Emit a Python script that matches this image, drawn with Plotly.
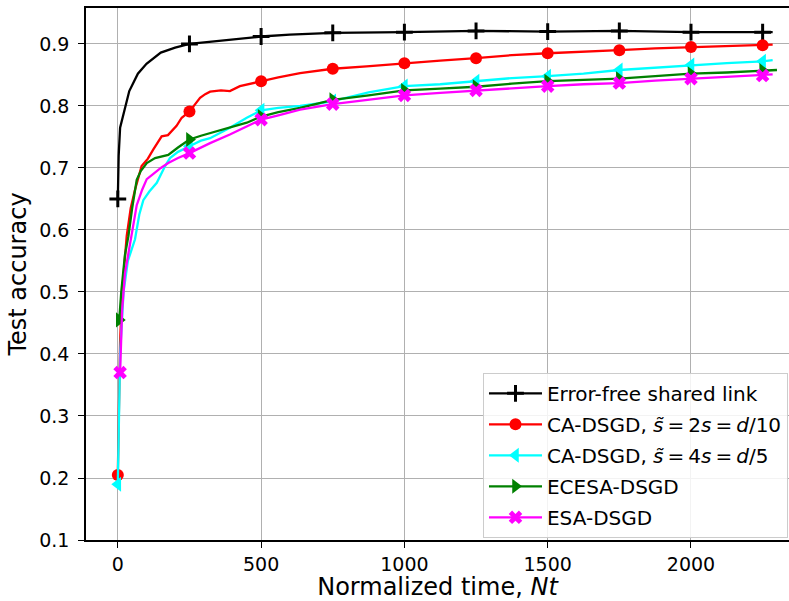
import plotly.graph_objects as go

# ---------------- data ----------------
marker_x = [0, 250, 500, 750, 1000, 1250, 1500, 1750, 2000, 2250]

x_ef = [0, 3, 8, 18, 40, 70, 100, 150, 200, 250, 350, 420, 500, 600, 750,
        1000, 1250, 1500, 1750, 2000, 2250, 2285]
acc_ef = [0.650, 0.720, 0.765, 0.785, 0.824, 0.852, 0.868, 0.886, 0.894, 0.900,
          0.905, 0.909, 0.912, 0.915, 0.918, 0.919, 0.921, 0.920, 0.921, 0.919,
          0.919, 0.919]

x_ca10 = [0, 8, 15, 25, 31, 45, 60, 83, 105, 124, 140, 153, 175, 188, 205, 223,
          250, 270, 287, 305, 322, 360, 391, 426, 500, 560, 636, 750, 868, 1000,
          1125, 1250, 1375, 1500, 1625, 1750, 1875, 2000, 2125, 2250, 2285]
acc_ca10 = [0.205, 0.420, 0.500, 0.560, 0.590, 0.635, 0.665, 0.703, 0.715, 0.730,
            0.742, 0.751, 0.753, 0.759, 0.768, 0.781, 0.791, 0.803, 0.813, 0.819,
            0.823, 0.825, 0.824, 0.832, 0.840, 0.846, 0.853, 0.860, 0.864, 0.869,
            0.873, 0.877, 0.882, 0.885, 0.887, 0.890, 0.893, 0.895, 0.897, 0.898,
            0.899]

x_ca5 = [0, 8, 20, 35, 60, 75, 89, 110, 136, 150, 165, 182, 210, 250, 290, 322,
         391, 450, 500, 560, 636, 700, 750, 875, 1000, 1125, 1250, 1375, 1500,
         1625, 1750, 1875, 2000, 2125, 2250, 2285]
acc_ca5 = [0.190, 0.400, 0.500, 0.550, 0.585, 0.625, 0.648, 0.662, 0.676, 0.690,
           0.703, 0.716, 0.726, 0.735, 0.744, 0.748, 0.765, 0.781, 0.793, 0.797,
           0.800, 0.804, 0.808, 0.822, 0.832, 0.835, 0.840, 0.845, 0.848, 0.852,
           0.858, 0.862, 0.866, 0.869, 0.872, 0.874]

x_ecesa = [5, 12, 25, 37, 50, 66, 80, 101, 130, 176, 210, 250, 290, 322, 391,
           450, 500, 560, 636, 750, 875, 1000, 1125, 1250, 1375, 1500, 1625,
           1750, 1875, 2000, 2125, 2250, 2300]
acc_ecesa = [0.455, 0.500, 0.560, 0.590, 0.635, 0.681, 0.695, 0.708, 0.716, 0.721,
             0.733, 0.746, 0.752, 0.756, 0.765, 0.773, 0.783, 0.790, 0.797, 0.810,
             0.817, 0.825, 0.828, 0.831, 0.836, 0.840, 0.842, 0.844, 0.848, 0.852,
             0.854, 0.857, 0.858]

x_esa = [8, 15, 25, 45, 66, 85, 101, 123, 150, 176, 210, 250, 290, 322, 391, 450,
         500, 560, 636, 750, 875, 1000, 1125, 1250, 1375, 1500, 1625, 1750, 1875,
         2000, 2125, 2250, 2285]
acc_esa = [0.370, 0.470, 0.530, 0.584, 0.640, 0.665, 0.682, 0.690, 0.700, 0.708,
           0.716, 0.724, 0.733, 0.740, 0.754, 0.767, 0.778, 0.785, 0.794, 0.803,
           0.810, 0.817, 0.821, 0.825, 0.829, 0.832, 0.835, 0.837, 0.841, 0.844,
           0.846, 0.849, 0.851]

names = [
    "Error-free shared link",
    "CA-DSGD, <i>s̃</i>\u2009=\u20092<i>s</i>\u2009=\u2009<i>d</i>/10",
    "CA-DSGD, <i>s̃</i>\u2009=\u20094<i>s</i>\u2009=\u2009<i>d</i>/5",
    "ECESA-DSGD",
    "ESA-DSGD",
]

# ---------------- styles ----------------
series = [
    (x_ef, acc_ef, "black", "cross-thin", 12, 3.0),
    (x_ca10, acc_ca10, "red", "circle", 12, 0),
    (x_ca5, acc_ca5, "cyan", "triangle-left", 13, 0),
    (x_ecesa, acc_ecesa, "green", "triangle-right", 13, 0),
    (x_esa, acc_esa, "magenta", "x", 12, 0),
]

fig = go.Figure()
for i, (xs, ys, col, sym, msz, mlw) in enumerate(series):
    fig.add_trace(go.Scatter(x=xs, y=ys, mode="lines",
                             line=dict(color=col, width=2.3),
                             showlegend=False, hoverinfo="skip"))
    mk_x = [x for j, x in enumerate(xs) if j == 0 or x in marker_x]
    mk_y = [y for j, (x, y) in enumerate(zip(xs, ys)) if j == 0 or x in marker_x]
    mk = dict(color=col, symbol=sym, size=msz,
              line=dict(color=col, width=mlw))
    fig.add_trace(go.Scatter(x=mk_x, y=mk_y, mode="markers", marker=mk,
                             showlegend=False))
    fig.add_trace(go.Scatter(x=[None], y=[None], mode="lines+markers",
                             line=dict(color=col, width=2.3), marker=mk,
                             name=names[i], legendgroup=f"leg{i}"))

font_family = "DejaVu Sans"
fig.update_layout(
    width=789, height=601,
    margin=dict(l=86, r=0, t=8, b=61),
    paper_bgcolor="white", plot_bgcolor="white",
    font=dict(family=font_family, color="black", size=19),
    xaxis=dict(
        range=[-111, 2342], automargin=False,
        tickvals=[0, 500, 1000, 1500, 2000],
        ticktext=["0", "500", "1000", "1500", "2000"],
        showgrid=True, gridcolor="#b0b0b0", gridwidth=1.3,
        showline=True, linecolor="black", linewidth=1.5, mirror=True,
        ticks="outside", ticklen=6, tickwidth=1.3, tickcolor="black",
        tickfont=dict(size=19),
        title=dict(text="Normalized time, <i>Nt</i>", font=dict(size=24), standoff=2),
        zeroline=False,
    ),
    yaxis=dict(
        range=[0.1, 0.958], automargin=False,
        tickvals=[0.1, 0.2, 0.3, 0.4, 0.5, 0.6, 0.7, 0.8, 0.9],
        ticktext=["0.1", "0.2", "0.3", "0.4", "0.5", "0.6", "0.7", "0.8", "0.9"],
        showgrid=True, gridcolor="#b0b0b0", gridwidth=1.3,
        showline=True, linecolor="black", linewidth=1.5, mirror=False,
        ticks="outside", ticklen=6, tickwidth=1.3, tickcolor="black",
        ticklabelstandoff=5,
        tickfont=dict(size=19),
        title=dict(text="Test accuracy", font=dict(size=24), standoff=6),
        zeroline=False,
    ),
    legend=dict(
        x=0.5647, y=0.3143, xanchor="left", yanchor="top",
        bgcolor="rgba(255,255,255,0.85)", bordercolor="#cccccc", borderwidth=1,
        font=dict(size=20, family=font_family),
        itemwidth=53, traceorder="grouped", tracegroupgap=2,
    ),
)

# remove the browser's default 8px body margin so the figure sits at (0, 0)
fig.write_html(
    "out.html",
    config={"displayModeBar": False},
    post_script="document.body.style.margin='0';document.body.style.overflow='hidden';",
)
